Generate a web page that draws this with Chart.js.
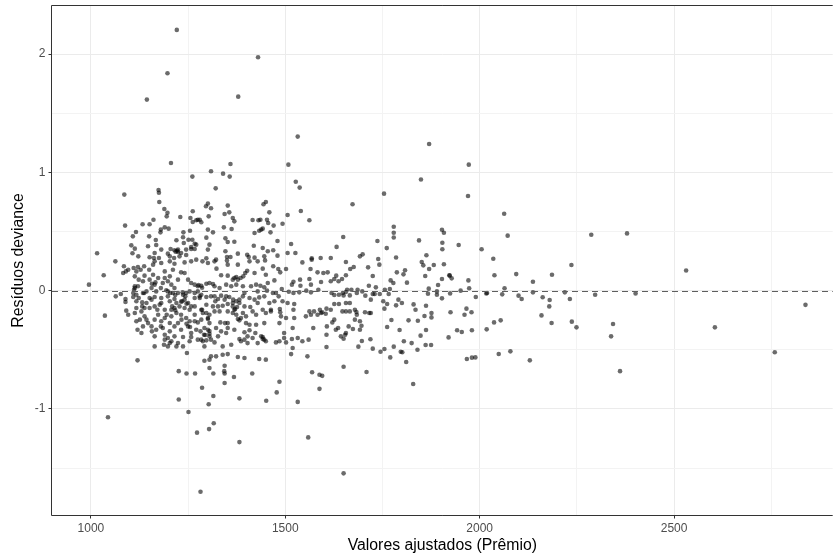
<!DOCTYPE html>
<html>
<head>
<meta charset="utf-8">
<script src="https://cdn.jsdelivr.net/npm/chart.js@4.4.1/dist/chart.umd.min.js"></script>
<style>
  html, body { margin: 0; padding: 0; background: #fff; overflow: hidden; }
  canvas { display: block; }
</style>
</head>
<body>
<canvas id="residuosChart" width="835" height="557"></canvas>
<script>
// valores ajustados (eixo x) e resíduos deviance (eixo y)
const ajustados = [
  // pontos extremos
  1221,1197,1144,1430,1379,1532,1870,2531,2605,2759,
  2838,2361,1709,1650,1829,
  // faixa 1000-1260, resíduos altos
  1206,1261,1086,1174,1175,1176,1189,1197,1195,1230,
  1256,1262,1088,1133,1151,1161,1116,1108,1180,1179,
  1190,1200,1150,1167,1168,1147,1104,1113,1122,1107,
  1016,1238,1237,1255,1251,1261,1220,1239,1258,1205,
  1215,1218,1224,1222,1232,1245,1258,1151,1162,1175,
  1203,1214,1262,
  // faixa 1260-1620, resíduos altos
  1359,1508,1309,1340,1357,1527,1537,1321,1540,1562,
  1506,1493,1301,1296,1309,1352,1356,1344,1303,1275,
  1280,1271,1284,1365,1369,1444,1450,1459,1416,1431,
  1436,1453,1456,1470,1438,1442,1433,1421,1462,1301,
  1314,1342,1362,1297,1346,1352,1369,1305,1301,1267,
  1271,1267,1480,1515,1419,1442,1469,1455,1506,1526,
  1346,1350,1359,1378,1402,1406,1421,1446,1480,1568,
  1591,1617,1297,1322,
  // faixa 1620-1980, resíduos altos
  1972,1849,1754,1673,1970,1649,1632,1737,1779,1779,
  1779,1761,1785,1844,1863,1903,1908,1904,1904,1946,
  1692,1699,1739,
  // acima de 1980
  2063,2072,2005,2035,2038,2094,2137,2186,2236,2287,
  2379,2064,2017,2019,1990,2058,2100,2108,2137,2162,
  2180,2179,2159,2185,2219,2232,2297,2401,2237,2249,
  2343,2338,2037,2054,2018,1989,2049,2079,2129,
  // resíduos muito negativos
  1044,1282,1251,1273,1304,1316,1382,1559,1226,1303,
  1315,1286,1382,1451,1478,1485,1532,1344,1368,1415,
  1315,1344,1343,1268,1246,1226,1569,1588,1595,1588,
  // faixa 990-1260, perto de zero
  1063,1033,995,1085,1090,1083,1096,1110,1121,1128,
  1117,1113,1138,1150,1160,1164,1181,1203,1215,1241,
  1258,1232,1203,1190,1173,1160,1151,1134,1123,1121,
  1113,1111,1109,1117,1134,1143,1156,1164,1168,1180,
  1185,1198,1207,1215,1198,1211,1224,1237,1245,1254,
  1258,1250,1064,1077,1089,1089,1109,1117,1132,1143,
  1156,1164,1181,1198,1203,1215,1220,1235,1241,1250,
  1091,1096,1117,1113,1130,1138,1151,1164,1177,1190,
  1207,1215,1228,1241,1254,1258,1036,1117,1126,1138,
  1147,1164,1173,1181,1190,1207,1220,1232,1245,1254,
  1120,1130,1134,1156,1157,1168,1185,1190,1203,1215,
  1224,1232,1250,1258,1190,1198,1207,1215,1224,1237,
  1254,1164,1188,1203,1220,1237,1247,1120,
  // faixa 1260-1620, perto de zero
  1271,1287,1301,1318,1350,1352,1378,1408,1429,1448,
  1469,1482,1487,1544,1565,1568,1583,1598,1323,1335,
  1352,1374,1365,1385,1397,1402,1392,1421,1442,1450,
  1455,1472,1502,1521,1517,1538,1539,1562,1566,1592,
  1609,1617,1267,1275,1284,1297,1305,1314,1318,1331,
  1348,1361,1374,1391,1412,1425,1436,1446,1453,1468,
  1476,1491,1509,1521,1536,1554,1566,1585,1619,1267,
  1275,1267,1280,1284,1297,1309,1318,1327,1335,1348,
  1356,1366,1374,1382,1391,1408,1421,1433,1446,1459,
  1472,1483,1493,1506,1523,1297,1314,1327,1339,1352,
  1365,1369,1382,1395,1410,1429,1442,1463,1486,1487,
  1521,1562,1574,1589,1595,1606,1617,1267,1284,1267,
  1288,1305,1318,1331,1352,1365,1374,1391,1399,1416,
  1425,1450,1463,1489,1502,1523,1553,1566,1583,1592,
  1604,1267,1284,1301,1305,1333,1345,1352,1378,1382,
  1399,1408,1425,1446,1485,1519,1572,1607,1621,1271,
  1282,1292,1301,1305,1291,1275,1288,1297,1309,1305,
  1322,1335,1348,1369,1395,1408,1423,1403,1416,1382,
  1386,1403,1395,1438,1442,1446,1450,1429,1476,1485,
  1497,1497,1502,1517,1519,1532,1544,1560,1606,1606,
  1292,1318,1339,1361,1292,1309,1305,1322,1339,1352,
  1378,1395,1433,1450,1515,1557,1305,1344,
  // faixa 1620-1980, perto de zero
  1656,1667,1676,1713,1742,1851,1855,1870,1882,1908,
  1631,1626,1637,1646,1656,1725,1787,1804,1808,1860,
  1922,1923,1928,1903,1771,1778,1813,1971,1715,1733,
  1893,1869,1890,1924,1951,1973,1659,1670,1686,1698,
  1656,1648,1650,1666,1684,1725,1730,1743,1756,1769,
  1766,1706,1720,1867,1890,1903,1626,1638,1626,1638,
  1656,1666,1647,1656,1666,1679,1683,1684,1705,1716,
  1720,1752,1762,1755,1791,1800,1785,1830,1835,1862,
  1966,1979,1961,1925,1626,1679,1630,1636,1663,1674,
  1692,1696,1692,1817,1841,1858,1876,1876,1773,1762,
  1794,1643,1654,1650,1656,1697,1719,1688,1725,1745,
  1755,1779,1770,1797,1801,1811,1805,1825,1840,1848,
  1862,1861,1875,1942,1954,1920,1980,1967,1980,1650,
  // pontos sobrepostos no núcleo denso
  1113,1157,1166,1194,1204,1217,1236,1243,1232,1246,
  1209,1217,1195,1203,1233,1246,1255,1258,1181,1151,
  1132,1171,1143,1180,1198,1164,1137,1123,1190,1224,
  1241,1211,1137,1277,1286,1280,1286,1297,1301,1275,
  1365,1371,1376,1284,1294,1305,1442,1369,1378,1320,
  1344,1395,1429,1386,1352,1327,1224,1228,1245,1198,
  1181,1164
];

const residuos = [
  // pontos extremos
  2.204,1.837,1.615,1.973,1.640,1.302,1.240,0.17,-0.31,-0.52,
  -0.12,-0.68,-0.688,-1.544,-0.789,
  // faixa 1000-1260, resíduos altos
  1.079,0.964,0.812,0.851,0.828,0.750,0.690,0.659,0.628,0.623,
  0.614,0.671,0.550,0.561,0.561,0.600,0.496,0.459,0.516,0.493,
  0.535,0.524,0.459,0.428,0.386,0.375,0.383,0.355,0.290,0.316,
  0.316,0.493,0.451,0.507,0.431,0.431,0.426,0.403,0.369,0.352,
  0.341,0.330,0.327,0.338,0.318,0.301,0.352,0.282,0.276,0.276,
  0.290,0.276,0.580,
  // faixa 1260-1620, resíduos altos
  1.071,1.065,1.009,0.989,0.964,0.921,0.871,0.865,0.673,0.595,
  0.640,0.566,0.736,0.713,0.696,0.719,0.662,0.648,0.628,0.600,
  0.600,0.595,0.578,0.614,0.586,0.730,0.750,0.662,0.597,0.595,
  0.600,0.600,0.572,0.550,0.516,0.524,0.507,0.487,0.493,0.516,
  0.493,0.535,0.521,0.448,0.442,0.411,0.414,0.389,0.347,0.397,
  0.389,0.352,0.420,0.394,0.380,0.361,0.341,0.333,0.318,0.318,
  0.333,0.285,0.285,0.313,0.304,0.285,0.279,0.290,0.296,0.273,
  0.276,0.276,0.273,0.262,
  // faixa 1620-1980, resíduos altos
  1.065,0.940,0.820,0.730,0.800,0.454,0.370,0.420,0.540,0.490,
  0.450,0.360,0.280,0.425,0.300,0.515,0.490,0.405,0.350,0.386,
  0.290,0.307,0.268,
  // acima de 1980
  0.65,0.465,0.35,0.27,0.13,0.14,0.076,0.135,0.217,0.473,
  0.484,0.02,-0.023,-0.02,-0.053,-0.031,-0.042,-0.07,-0.014,-0.056,
  -0.079,-0.133,-0.209,-0.273,-0.014,-0.07,-0.034,-0.023,-0.262,-0.31,
  -0.282,-0.386,-0.268,-0.251,-0.327,-0.564,-0.535,-0.513,-0.589,
  // resíduos muito negativos
  -1.07,-1.70,-1.025,-1.20,-1.17,-1.12,-1.28,-1.24,-0.92,-0.96,
  -0.89,-0.82,-0.91,-0.93,-0.86,-0.77,-0.94,-0.78,-0.73,-0.70,
  -0.70,-0.70,-0.68,-0.70,-0.70,-0.68,-0.69,-0.71,-0.72,-0.83,
  // faixa 990-1260, perto de zero
  0.248,0.130,0.051,0.206,0.163,0.149,0.177,0.192,0.200,0.177,
  0.163,0.121,0.127,0.177,0.220,0.248,0.234,0.248,0.228,0.239,
  0.248,0.155,0.121,0.163,0.107,0.135,0.093,0.079,0.093,0.037,
  0.037,0.008,-0.020,-0.034,-0.020,-0.006,0.022,0.051,-0.006,0.022,
  0.065,0.079,0.051,0.022,-0.006,-0.020,-0.020,-0.034,-0.020,-0.006,
  0.065,0.093,-0.048,-0.028,-0.071,-0.096,-0.054,-0.090,-0.099,-0.104,
  -0.076,-0.054,-0.062,-0.048,-0.090,-0.071,-0.104,-0.090,-0.076,-0.104,
  -0.169,-0.203,-0.147,-0.189,-0.175,-0.147,-0.147,-0.133,-0.118,-0.161,
  -0.161,-0.147,-0.133,-0.147,-0.161,-0.133,-0.211,-0.259,-0.245,-0.217,
  -0.274,-0.245,-0.203,-0.259,-0.231,-0.217,-0.189,-0.203,-0.231,-0.259,
  -0.330,-0.358,-0.302,-0.302,-0.344,-0.330,-0.316,-0.372,-0.344,-0.302,
  -0.274,-0.330,-0.302,-0.358,-0.414,-0.400,-0.428,-0.386,-0.443,-0.392,
  -0.428,-0.471,-0.457,-0.443,-0.471,-0.471,-0.527,-0.589,
  // faixa 1260-1620, perto de zero
  0.262,0.248,0.234,0.248,0.254,0.220,0.220,0.248,0.248,0.256,
  0.206,0.183,0.155,0.239,0.183,0.262,0.155,0.149,0.186,0.130,
  0.127,0.115,0.093,0.107,0.149,0.169,0.121,0.149,0.186,0.135,
  0.065,0.087,0.183,0.076,0.051,0.093,0.042,0.099,0.051,0.073,
  0.155,0.079,0.051,0.037,0.042,0.059,0.065,0.056,0.037,0.022,
  0.051,0.037,0.051,0.037,0.037,0.051,0.042,0.028,0.000,-0.020,
  -0.020,0.014,-0.009,-0.020,-0.014,0.000,-0.014,0.008,-0.020,-0.020,
  -0.006,-0.062,-0.062,-0.034,-0.054,-0.048,-0.048,-0.071,-0.042,-0.048,
  -0.054,-0.076,-0.090,-0.076,-0.048,-0.062,-0.076,-0.057,-0.048,-0.104,
  -0.090,-0.048,-0.090,-0.104,-0.113,-0.119,-0.133,-0.133,-0.127,-0.113,
  -0.133,-0.161,-0.104,-0.133,-0.138,-0.104,-0.161,-0.161,-0.155,-0.183,
  -0.161,-0.175,-0.175,-0.161,-0.183,-0.152,-0.161,-0.133,-0.161,-0.203,
  -0.189,-0.203,-0.175,-0.175,-0.175,-0.189,-0.203,-0.189,-0.217,-0.175,
  -0.203,-0.189,-0.175,-0.217,-0.231,-0.231,-0.217,-0.203,-0.203,-0.189,
  -0.195,-0.259,-0.245,-0.231,-0.274,-0.268,-0.274,-0.274,-0.240,-0.251,
  -0.274,-0.288,-0.288,-0.274,-0.274,-0.316,-0.316,-0.302,-0.268,-0.330,
  -0.344,-0.316,-0.330,-0.364,-0.372,-0.414,-0.428,-0.420,-0.414,-0.386,
  -0.316,-0.344,-0.358,-0.330,-0.352,-0.335,-0.358,-0.386,-0.400,-0.409,
  -0.428,-0.443,-0.414,-0.386,-0.409,-0.414,-0.428,-0.443,-0.437,-0.428,
  -0.358,-0.400,-0.437,-0.409,-0.485,-0.400,-0.428,-0.414,-0.372,-0.476,
  -0.471,-0.437,-0.471,-0.457,-0.592,-0.555,-0.583,-0.555,-0.541,-0.536,
  -0.561,-0.569,-0.578,-0.583,-0.536,-0.555,-0.654,-0.634,
  // faixa 1620-1980, perto de zero
  0.242,0.183,0.200,0.197,0.220,0.242,0.214,0.183,0.217,0.223,
  0.127,0.099,0.079,0.099,0.130,0.124,0.155,0.138,0.172,0.124,
  0.130,0.127,0.104,0.099,0.087,0.065,0.068,0.087,0.042,0.028,
  0.048,0.017,-0.006,-0.023,0.000,0.020,0.008,0.008,0.008,-0.006,
  -0.011,-0.020,-0.040,-0.040,-0.020,-0.028,-0.028,-0.028,0.008,0.014,
  -0.028,-0.042,-0.076,-0.025,-0.034,-0.065,-0.037,-0.034,-0.113,-0.113,
  -0.104,-0.104,-0.175,-0.175,-0.175,-0.161,-0.180,-0.203,-0.183,-0.189,
  -0.189,-0.090,-0.113,-0.152,-0.076,-0.104,-0.124,-0.116,-0.161,-0.127,
  -0.152,-0.183,-0.203,-0.183,-0.245,-0.245,-0.330,-0.316,-0.302,-0.324,
  -0.259,-0.296,-0.330,-0.251,-0.254,-0.214,-0.189,-0.226,-0.248,-0.307,
  -0.333,-0.386,-0.372,-0.406,-0.358,-0.426,-0.411,-0.473,-0.490,-0.516,
  -0.493,-0.473,-0.564,-0.516,-0.521,-0.603,-0.428,-0.443,-0.499,-0.380,
  -0.333,-0.459,-0.459,-0.335,-0.349,-0.395,-0.335,-0.578,-0.566,-0.643,
  // pontos sobrepostos no núcleo denso
  0.022,0.059,0.070,0.003,-0.020,-0.037,-0.014,-0.048,-0.093,-0.110,
  -0.133,-0.166,-0.203,-0.273,-0.245,-0.279,-0.307,-0.392,-0.104,-0.062,
  -0.133,-0.161,-0.245,-0.302,-0.471,-0.386,-0.020,-0.062,0.107,0.093,
  0.149,0.177,0.206,0.048,0.025,-0.048,-0.161,-0.189,-0.240,-0.268,
  -0.104,-0.155,-0.138,-0.414,-0.375,-0.341,-0.392,0.107,0.093,-0.090,
  -0.076,-0.020,-0.006,-0.231,-0.316,-0.386,0.347,0.290,0.347,0.313,
  0.347,0.318
];

// grade: ticks maiores (com rótulo) e menores
const xTicks = [1000, 1250, 1500, 1750, 2000, 2250, 2500, 2750];
const xRotulos = [1000, 1500, 2000, 2500];
const yTicks = [-1.5, -1, -0.5, 0, 0.5, 1, 1.5, 2];
const yRotulos = [-1, 0, 1, 2];
const linhaRef = 0;

const fonte = "'Liberation Sans', Arial, sans-serif";

const moldura = {
  id: 'moldura',
  afterDatasetsDraw(chart) {
    const { ctx, chartArea: a, scales } = chart;
    ctx.save();
    // linha tracejada em zero
    const y0 = Math.round(scales.y.getPixelForValue(linhaRef)) + 0.5;
    ctx.strokeStyle = '#5e5e5e';
    ctx.lineWidth = 1.1;
    ctx.setLineDash([6, 4]);
    ctx.beginPath();
    ctx.moveTo(a.left, y0);
    ctx.lineTo(a.right, y0);
    ctx.stroke();
    // borda do painel
    ctx.setLineDash([]);
    ctx.strokeStyle = '#333333';
    ctx.lineWidth = 1;
    ctx.beginPath();
    ctx.moveTo(a.right, a.top - 0.5);
    ctx.lineTo(a.left - 0.5, a.top - 0.5);
    ctx.lineTo(a.left - 0.5, a.bottom + 0.5);
    ctx.lineTo(a.right, a.bottom + 0.5);
    ctx.stroke();
    ctx.restore();
  }
};

function semPadding(ax) {
  ax.paddingTop = 0; ax.paddingBottom = 0;
  ax.paddingLeft = 0; ax.paddingRight = 0;
}

new Chart(document.getElementById('residuosChart'), {
  type: 'scatter',
  data: {
    datasets: [{
      data: ajustados.map((x, i) => ({ x: x, y: residuos[i] })),
      backgroundColor: 'rgba(0,0,0,0.58)',
      borderWidth: 0,
      pointRadius: 2.3,
      pointHoverRadius: 2.3
    }]
  },
  options: {
    responsive: false,
    animation: false,
    devicePixelRatio: 1,
    layout: { padding: { top: 6, right: 0, bottom: 0, left: 0 } },
    plugins: {
      legend: { display: false },
      tooltip: { enabled: false }
    },
    scales: {
      x: {
        type: 'linear',
        min: 900,
        max: 2908,
        afterBuildTicks: ax => { ax.ticks = xTicks.map(v => ({ value: v })); },
        afterFit: ax => { ax.height = 42; semPadding(ax); },
        border: { display: false },
        grid: {
          color: c => xRotulos.includes(c.tick.value) ? '#ebebeb' : '#f3f3f3',
          lineWidth: 1,
          tickColor: c => xRotulos.includes(c.tick.value) ? '#333333' : 'rgba(0,0,0,0)',
          tickLength: 3.5
        },
        ticks: {
          autoSkip: false,
          maxRotation: 0,
          padding: 3,
          color: '#4d4d4d',
          font: { family: fonte, size: 12 },
          callback: v => xRotulos.includes(v) ? String(v) : ''
        },
        title: {
          display: true,
          text: 'Valores ajustados (Prêmio)',
          color: '#000000',
          font: { family: fonte, size: 15.8 },
          padding: { top: 0, bottom: 2 }
        }
      },
      y: {
        type: 'linear',
        min: -1.896,
        max: 2.406,
        afterBuildTicks: ax => { ax.ticks = yTicks.map(v => ({ value: v })); },
        afterFit: ax => { ax.width = 52; semPadding(ax); },
        border: { display: false },
        grid: {
          color: c => yRotulos.includes(c.tick.value) ? '#ebebeb' : '#f3f3f3',
          lineWidth: 1,
          tickColor: c => yRotulos.includes(c.tick.value) ? '#333333' : 'rgba(0,0,0,0)',
          tickLength: 3.5
        },
        ticks: {
          autoSkip: false,
          padding: 3,
          color: '#4d4d4d',
          font: { family: fonte, size: 12 },
          callback: v => yRotulos.includes(v) ? String(v) : ''
        },
        title: {
          display: true,
          text: 'Resíduos deviance',
          color: '#000000',
          font: { family: fonte, size: 15.8 },
          padding: { top: 9, bottom: 0 }
        }
      }
    }
  },
  plugins: [moldura]
});
</script>
</body>
</html>
